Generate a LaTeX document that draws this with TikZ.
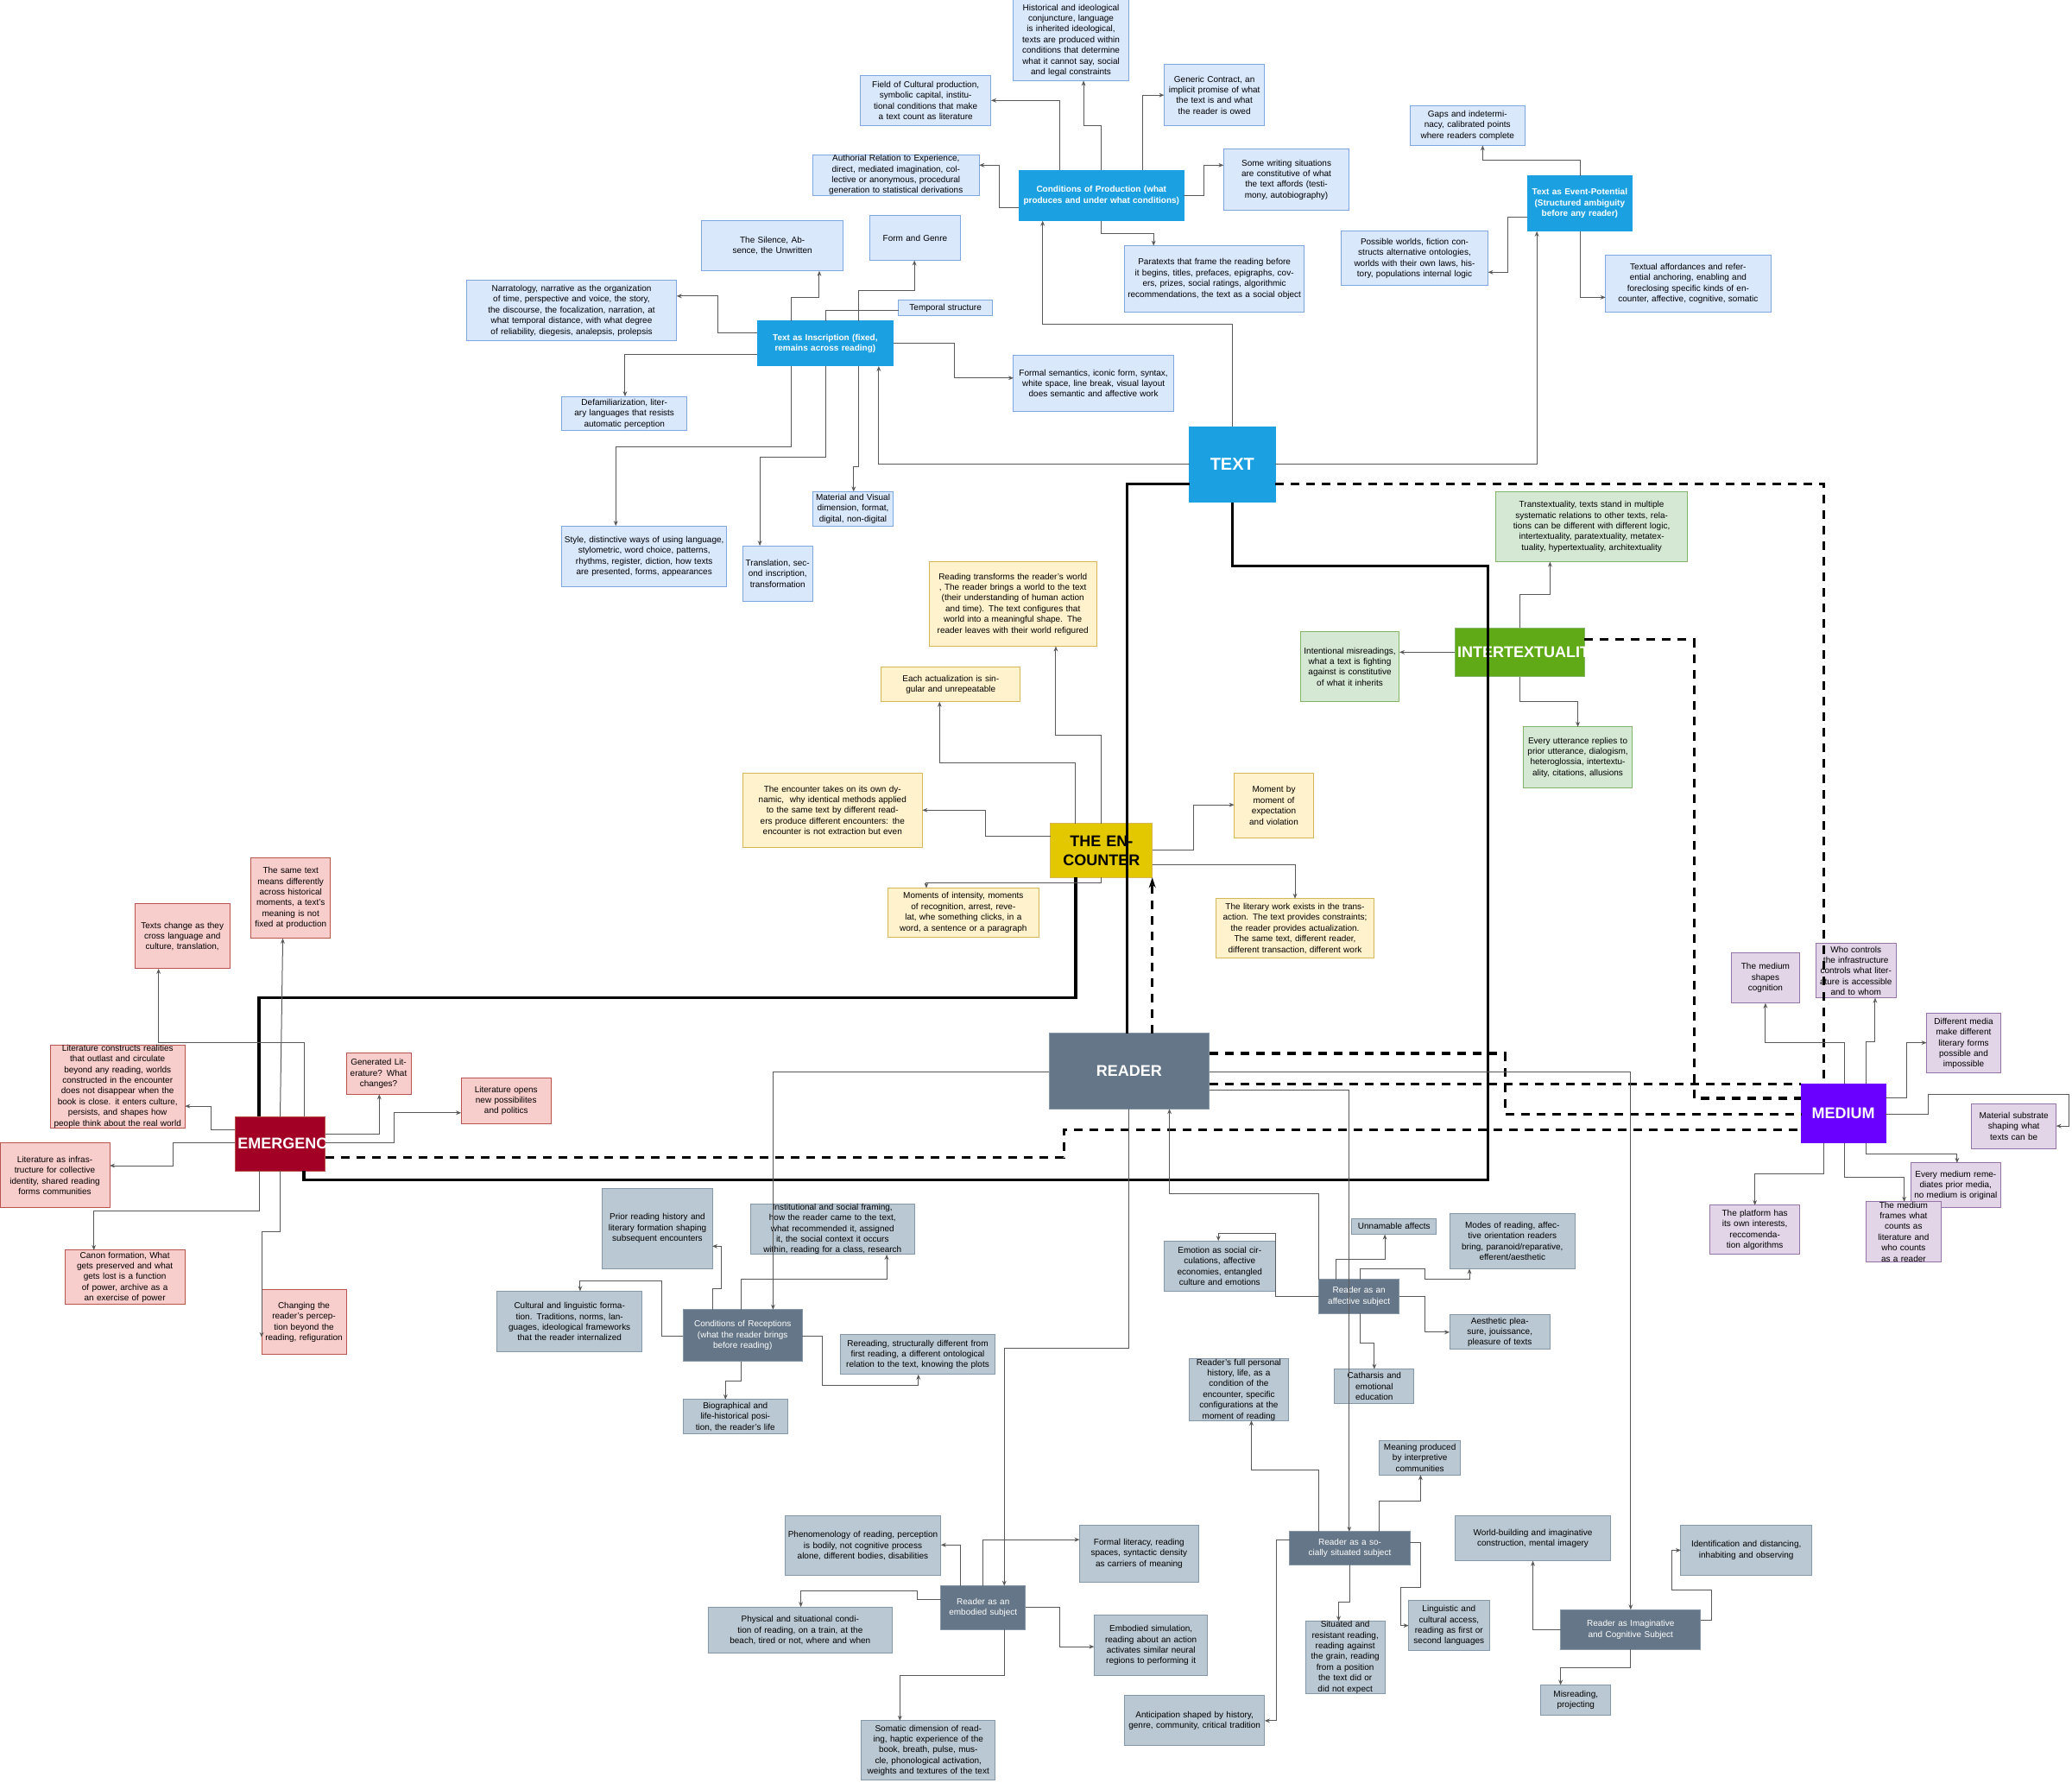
\documentclass[tikz,border=0pt]{standalone}
\usepackage{fontspec}
\setmainfont{Liberation Sans}
\usetikzlibrary{arrows.meta}
\definecolor{bF}{HTML}{DAE8FC}\definecolor{bD}{HTML}{7EA6E0}
\definecolor{bM}{HTML}{1BA1E2}
\definecolor{yF}{HTML}{FFF2CC}\definecolor{yD}{HTML}{D6B656}
\definecolor{gF}{HTML}{D5E8D4}\definecolor{gD}{HTML}{82B366}\definecolor{gM}{HTML}{60A917}
\definecolor{pF}{HTML}{F8CECC}\definecolor{pD}{HTML}{B85450}\definecolor{pM}{HTML}{A20025}
\definecolor{sF}{HTML}{BAC8D3}\definecolor{sD}{HTML}{8497A8}\definecolor{sM}{HTML}{647687}
\definecolor{vF}{HTML}{E1D5E7}\definecolor{vD}{HTML}{9673A6}\definecolor{vM}{HTML}{6A00FF}
\definecolor{eM}{HTML}{E3C800}
\newcommand\bx[7]{%
 \pgfmathsetmacro\bw{(#4-#2)*0.7654}\pgfmathsetmacro\bh{(#5-#3)*0.7654}\pgfmathsetmacro\tw{max(\bw-3,5)}%
 \node[#6, minimum width=\bw pt, minimum height=\bh pt, text width=\tw pt] (#1) at ({(#2+#4)/2},{(#3+#5)/2}) {#7};}
\begin{document}
\begin{tikzpicture}[x=0.7654pt,y=-0.7654pt,
 base/.style={draw, rectangle, align=center, inner xsep=1.5pt, inner ysep=0pt, outer sep=0pt, font=\fontsize{5}{6.2}\selectfont, line width=0.5pt},
 blu/.style={base, fill=bF, draw=bD},
 bmain/.style={base, fill=bM, draw=bM, text=white, font=\fontsize{5}{6.2}\selectfont\bfseries},
 yel/.style={base, fill=yF, draw=yD},
 grn/.style={base, fill=gF, draw=gD},
 pnk/.style={base, fill=pF, draw=pD},
 gry/.style={base, fill=sF, draw=sD},
 gmain/.style={base, fill=sM, draw=sD, text=white},
 vio/.style={base, fill=vF, draw=vD},
 big/.style={base, text=white, font=\fontsize{9}{11}\selectfont\bfseries},
 ln/.style={draw=black!65, line width=0.5pt},
 ar/.style={ln, -{Stealth[length=3pt,width=2.4pt]}},
 thk/.style={draw=black, line width=1.6pt},
 dsh/.style={draw=black, line width=1.6pt, dash pattern=on 5pt off 4pt}]
\useasboundingbox (0,0) rectangle (1568,1349);
% ---------- nodes ----------
\bx{tx}{900}{323}{965}{380}{big,fill=bM,draw=bM,font=\fontsize{10}{12}\selectfont\bfseries}{TEXT}
\bx{cp}{771}{129}{896}{167}{bmain}{Conditions of Production (what produces and under what conditions)}
\bx{hi}{767}{0}{854}{61}{blu}{Historical and ideological conjuncture, language is inherited ideological, texts are produced within conditions that determine what it cannot say, social and legal constraints}
\bx{fc}{651}{57}{750}{95}{blu}{Field of Cultural production, symbolic capital, institutional conditions that make a text count as literature}
\bx{gc}{881}{49}{957}{95}{blu}{Generic Contract, an implicit promise of what the text is and what the reader is owed}
\bx{au}{615}{117}{741}{148}{blu}{Authorial Relation to Experience, direct, mediated imagination, collective or anonymous, procedural generation to statistical derivations}
\bx{sw}{926}{113}{1021}{159}{blu}{Some writing situations are constitutive of what the text affords (testimony, autobiography)}
\bx{pa}{851}{186}{987}{236}{blu}{Paratexts that frame the reading before it begins, titles, prefaces, epigraphs, covers, prizes, social ratings, algorithmic recommendations, the text as a social object}
\bx{ep}{1156}{133}{1235}{175}{bmain}{Text as Event-Potential (Structured ambiguity before any reader)}
\bx{ga}{1067}{80}{1154}{110}{blu}{Gaps and indeterminacy, calibrated points where readers complete}
\bx{pw}{1015}{175}{1126}{216}{blu}{Possible worlds, fiction constructs alternative ontologies, worlds with their own laws, history, populations internal logic}
\bx{ta}{1215}{193}{1340}{236}{blu}{Textual affordances and referential anchoring, enabling and foreclosing specific kinds of encounter, affective, cognitive, somatic}
\bx{ins}{573}{243}{676}{277}{bmain}{Text as Inscription (fixed, remains across reading)}
\bx{si}{531}{167}{638}{205}{blu}{The Silence, Absence, the Unwritten}
\bx{fg}{658}{163}{727}{197}{blu}{Form and Genre}
\bx{ts}{680}{227}{751}{239}{blu}{Temporal structure}
\bx{na}{353}{212}{512}{258}{blu}{Narratology, narrative as the organization of time, perspective and voice, the story, the discourse, the focalization, narration, at what temporal distance, with what degree of reliability, diegesis, analepsis, prolepsis}
\bx{fs}{767}{269}{888}{311}{blu}{Formal semantics, iconic form, syntax, white space, line break, visual layout does semantic and affective work}
\bx{de}{425}{300}{520}{326}{blu}{Defamiliarization, literary languages that resists automatic perception}
\bx{mv}{615}{372}{676}{398}{blu}{Material and Visual dimension, format, digital, non-digital}
\bx{sy}{425}{398}{550}{444}{blu}{Style, distinctive ways of using language, stylometric, word choice, patterns, rhythms, register, diction, how texts are presented, forms, appearances}
\bx{tr}{562}{413}{615}{455}{blu}{Translation, second inscription, transformation}
\bx{tt}{1132}{372}{1277}{425}{grn}{Transtextuality, texts stand in multiple systematic relations to other texts, relations can be different with different logic, intertextuality, paratextuality, metatextuality, hypertextuality, architextuality}
\bx{it}{1101}{475}{1199}{512}{big,fill=gM,draw=gD}{INTERTEXTUALITY}
\bx{im}{984}{478}{1059}{531}{grn}{Intentional misreadings, what a text is fighting against is constitutive of what it inherits}
\bx{eu}{1153}{550}{1235}{596}{grn}{Every utterance replies to prior utterance, dialogism, heteroglossia, intertextuality, citations, allusions}
\bx{rt}{703}{425}{830}{489}{yel}{Reading transforms the reader's world , The reader brings a world to the text (their understanding of human action and time). The text configures that world into a meaningful shape. The reader leaves with their world refigured}
\bx{ea}{667}{505}{772}{531}{yel}{Each actualization is singular and unrepeatable}
\bx{et}{562}{585}{698}{641}{yel}{The encounter takes on its own dynamic, \ why identical methods applied to the same text by different readers produce different encounters: the encounter is not extraction but even}
\bx{enc}{795}{623}{872}{664}{big,fill=eM,draw=yD,text=black}{THE ENCOUNTER}
\bx{mm}{934}{585}{994}{634}{yel}{Moment by moment of expectation and violation}
\bx{mi}{672}{672}{786}{709}{yel}{Moments of intensity, moments of recognition, arrest, revelat, whe something clicks, in a word, a sentence or a paragraph}
\bx{lw}{920}{680}{1040}{725}{yel}{The literary work exists in the transaction. The text provides constraints; the reader provides actualization. The same text, different reader, different transaction, different work}
\bx{rd}{794}{782}{915}{839}{big,fill=sM,draw=sD}{READER}
\bx{med}{1363}{820}{1427}{865}{big,fill=vM,draw=vM}{MEDIUM}
\bx{ms}{1310}{721}{1362}{759}{vio}{The medium shapes cognition}
\bx{wc}{1374}{714}{1435}{755}{vio}{Who controls the infrastructure controls what literature is accessible and to whom}
\bx{dm}{1458}{767}{1514}{812}{vio}{Different media make different literary forms possible and impossible}
\bx{mt}{1492}{835}{1556}{869}{vio}{Material substrate shaping what texts can be}
\bx{evm}{1446}{880}{1514}{914}{vio}{Every medium remediates prior media, no medium is original}
\bx{pl}{1294}{912}{1362}{949}{vio}{The platform has its own interests, reccomendation algorithms}
\bx{mf}{1412}{914}{1469}{950}{vio}{The medium frames what counts as literature and who counts as a reader}
\bx{em}{178}{845}{246}{886}{big,fill=pM,draw=pD}{EMERGENCE}
\bx{sm}{190}{649}{250}{710}{pnk}{The same text means differently across historical moments, a text's meaning is not fixed at production}
\bx{tc}{102}{684}{174}{733}{pnk}{Texts change as they cross language and culture, translation,}
\bx{lc}{38}{792}{140}{852}{pnk}{Literature constructs realities that outlast and circulate beyond any reading, worlds constructed in the encounter does not disappear when the book is close. it enters culture, persists, and shapes how people think about the real world}
\bx{ge}{262}{797}{311}{828}{pnk}{Generated Literature? What changes?}
\bx{lo}{349}{816}{417}{850}{pnk}{Literature opens new possibilites and politics}
\bx{li}{0}{865}{83}{914}{pnk}{Literature as infrastructure for collective identity, shared reading forms communities}
\bx{ca}{49}{946}{140}{987}{pnk}{Canon formation, What gets preserved and what gets lost is a function of power, archive as a an exercise of power}
\bx{ch}{198}{976}{262}{1025}{pnk}{Changing the reader's perception beyond the reading, refiguration}
\bx{pr}{456}{899}{539}{960}{gry}{Prior reading history and literary formation shaping subsequent encounters\\[16pt]}
\bx{ns}{568}{911}{692}{949}{gry}{Institutional and social framing, how the reader came to the text, what recommended it, assigned it, the social context it occurs within, reading for a class, research}
\bx{cl}{376}{977}{486}{1023}{gry}{Cultural and linguistic formation. Traditions, norms, languages, ideological frameworks that the reader internalized}
\bx{cr}{517}{991}{607}{1030}{gmain}{Conditions of Receptions (what the reader brings\\ before reading)}
\bx{rr}{636}{1010}{753}{1040}{gry}{Rereading, structurally different from first reading, a different ontological relation to the text, knowing the plots}
\bx{bi}{517}{1059}{596}{1085}{gry}{Biographical and life-historical position, the reader's life}
\bx{un}{1023}{922}{1087}{934}{gry}{Unnamable affects}
\bx{mo}{1097}{918}{1192}{960}{gry}{Modes of reading, affective orientation readers bring, paranoid/reparative, efferent/aesthetic}
\bx{eo}{881}{939}{965}{977}{gry}{Emotion as social circulations, affective economies, entangled culture and emotions}
\bx{af}{998}{968}{1059}{994}{gmain}{Reader as an affective subject}
\bx{ae}{1097}{995}{1173}{1021}{gry}{Aesthetic pleasure, jouissance, pleasure of texts}
\bx{ct}{1010}{1036}{1070}{1062}{gry}{Catharsis and emotional education}
\bx{rf}{900}{1031}{975}{1072}{gry}{Reader's full personal history, life, as a condition of the encounter, specific configurations at the moment of reading}
\bx{me}{1044}{1090}{1105}{1116}{gry}{Meaning produced by interpretive communities}
\bx{ss}{976}{1159}{1067}{1184}{gmain}{Reader as a socially situated subject}
\bx{wb}{1101}{1147}{1219}{1181}{gry}{World-building and imaginative construction, mental imagery}
\bx{id}{1272}{1154}{1371}{1192}{gry}{Identification and distancing, inhabiting and observing}
\bx{ig}{1181}{1218}{1287}{1248}{gmain}{Reader as Imaginative and Cognitive Subject}
\bx{mr}{1166}{1275}{1219}{1298}{gry}{Misreading, projecting}
\bx{lg}{1066}{1211}{1127}{1249}{gry}{Linguistic and cultural access, reading as first or second languages}
\bx{sr}{988}{1233}{1048}{1275}{gry}{Situated and resistant reading, reading against the grain, reading from a position the text did or did not expect}
\bx{an}{851}{1283}{957}{1321}{gry}{Anticipation shaped by history, genre, community, critical tradition}
\bx{ph}{594}{1147}{712}{1192}{gry}{Phenomenology of reading, perception is bodily, not cognitive process alone, different bodies, disabilities}
\bx{fl}{817}{1154}{907}{1197}{gry}{Formal literacy, reading spaces, syntactic density as carriers of meaning}
\bx{eb}{712}{1200}{776}{1233}{gmain}{Reader as an embodied subject}
\bx{pc}{536}{1216}{675}{1251}{gry}{Physical and situational condition of reading, on a train, at the beach, tired or not, where and when}
\bx{es}{828}{1222}{914}{1268}{gry}{Embodied simulation, reading about an action activates similar neural regions to performing it}
\bx{so}{652}{1302}{753}{1347}{gry}{Somatic dimension of reading, haptic experience of the book, breath, pulse, muscle, phonological activation, weights and textures of the text}
% ---------- thick structure ----------
\draw[thk] (tx.west |- 0,366) -| (rd.north -| 853,0);
\draw[thk] (tx.south) |- (1126,428) -- (1126,893) -| (em.south -| 230,0);
\draw[thk] (enc.south -| 814,0) |- (196,755) -- (em.north -| 196,0);
\draw[dsh] (tx.east |- 0,366) -| (med.north -| 1380,0);
\draw[dsh] (it.east |- 0,484) -| (1282,831) -- (med.west |- 0,831);
\draw[dsh] (rd.east |- 0,797) -| (1139,843) -- (med.west |- 0,843);
\draw[dsh] (rd.east |- 0,820) -- (med.west |- 0,820);
\draw[dsh] (em.east |- 0,876) -| (805,855) -- (med.west |- 0,855);
\draw[dsh,-{Stealth[length=6pt,width=4pt]}] (rd.north -| 872,0) -- (enc.south -| 872,0);
% ---------- TEXT ----------
\draw[ar] (tx.north) |- (789,245) -- (cp.south -| 789,0);
\draw[ar] (tx.east |- 0,351) -| (ep.south -| 1163,0);
\draw[ar] (tx.west |- 0,351) -| (ins.south -| 665,0);
% conditions of production
\draw[ar] (cp.north -| 802,0) |- (fc.east |- 0,76);
\draw[ar] (cp.north -| 833,0) |- (820,95) -- (hi.south -| 820,0);
\draw[ar] (cp.north -| 865,0) |- (gc.west |- 0,72);
\draw[ar] (cp.east |- 0,148) -| (911,125) -- (sw.west |- 0,125);
\draw[ar] (cp.west |- 0,157) -| (756,125) -- (au.east |- 0,125);
\draw[ar] (cp.south) |- (873,177) -- (pa.north -| 873,0);
% event potential
\draw[ar] (ep.north -| 1196,0) |- (1122,121) -- (ga.south -| 1122,0);
\draw[ar] (ep.west |- 0,164) -| (1141,206) -- (pw.east |- 0,206);
\draw[ar] (ep.south -| 1196,0) |- (ta.west |- 0,225);
% inscription
\draw[ar] (ins.north -| 599,0) |- (620,225) -- (si.south -| 620,0);
\draw[ar] (ins.north -| 650,0) |- (692,220) -- (fg.south -| 692,0);
\draw[ln] (ins.north -| 625,0) |- (ts.west |- 0,235);
\draw[ar] (ins.west |- 0,252) -| (543,224) -- (na.east |- 0,224);
\draw[ar] (ins.west |- 0,268) -| (de.north -| 473,0);
\draw[ar] (ins.east |- 0,260) -| (722,286) -- (fs.west |- 0,286);
\draw[ar] (ins.south -| 599,0) |- (466,338) -- (sy.north -| 466,0);
\draw[ar] (ins.south -| 625,0) |- (575,346) -- (tr.north -| 575,0);
\draw[ar] (ins.south -| 650,0) |- (646,353) -- (mv.north -| 646,0);
% intertextuality
\draw[ar] (it.north -| 1150,0) |- (1173,450) -- (tt.south -| 1173,0);
\draw[ar] (it.west) -- (im.east |- it.west);
\draw[ar] (it.south -| 1150,0) |- (1194,531) -- (eu.north -| 1194,0);
% encounter
\draw[ar] (enc.north -| 833,0) |- (799,556) -- (rt.south -| 799,0);
\draw[ar] (enc.north -| 814,0) |- (711,577) -- (ea.south -| 711,0);
\draw[ar] (enc.west |- 0,633) -| (746,613) -- (et.east |- 0,613);
\draw[ar] (enc.east |- 0,643) -| (903,609) -- (mm.west |- 0,609);
\draw[ar] (enc.east |- 0,654) -| (lw.north -| 980,0);
\draw[ar] (enc.south -| 833,0) |- (701,668) -- (mi.north -| 701,0);
% reader
\draw[ar] (rd.west |- 0,811) -| (cr.north -| 585,0);
\draw[ar] (rd.south) |- (760,1020) -- (eb.north -| 760,0);
\draw[ar] (rd.east |- 0,811) -| (ig.north -| 1234,0);
\draw[ar] (rd.east |- 0,825) -| (ss.north -| 1021,0);
\draw[ar] (af.north -| 998,0) |- (885,903) -- (rd.south -| 885,0);
% emergence
\draw[ar] (em.north -| 230,0) |- (120,789) -- (tc.south -| 120,0);
\draw[ar] (em.north -| 212,0) -- (sm.south -| 214,0);
\draw[ar] (em.west |- 0,855) -| (160,837) -- (lc.east |- 0,837);
\draw[ar] (em.west |- 0,865) -| (131,882) -- (li.east |- 0,882);
\draw[ar] (em.east |- 0,858) -| (ge.south -| 287,0);
\draw[ar] (em.east |- 0,865) -| (298,842) -- (lo.west |- 0,842);
\draw[ar] (em.south -| 196,0) |- (71,916) -- (ca.north -| 71,0);
\draw[ar] (em.south -| 212,0) |- (198,932) -- (ch.west |- 0,1012);
% conditions of reception
\draw[ar] (cr.north -| 539,0) |- (546,975) -- (546,943) -- (pr.east |- 0,943);
\draw[ar] (cr.north -| 561,0) |- (671,968) -- (ns.south -| 671,0);
\draw[ar] (cr.west |- 0,1011) -| (501,969) -| (cl.north -| 439,0);
\draw[ar] (cr.east |- 0,1011) -| (622,1048) -| (rr.south -| 695,0);
\draw[ar] (cr.south -| 561,0) |- (549,1045) -- (bi.north -| 549,0);
% affective
\draw[ar] (af.west |- 0,981) -| (965,933) -| (eo.north -| 922,0);
\draw[ar] (af.north -| 1011,0) |- (1048,953) -- (un.south -| 1048,0);
\draw[ar] (af.north -| 1029,0) |- (1078,960) |- (1112,968) -- (mo.south -| 1112,0);
\draw[ar] (af.east |- 0,981) -| (1078,1008) -- (ae.west |- 0,1008);
\draw[ar] (af.south -| 1029,0) |- (1040,1016) -- (ct.north -| 1040,0);
% socially situated
\draw[ar] (ss.north -| 998,0) |- (947,1112) -- (rf.south -| 947,0);
\draw[ar] (ss.north -| 1044,0) |- (1075,1136) -- (me.south -| 1075,0);
\draw[ar] (ss.east |- 0,1167) -| (1075,1201) -| (1060,1230) -- (lg.west |- 0,1230);
\draw[ar] (ss.south) |- (1013,1212) -- (sr.north -| 1013,0);
\draw[ar] (ss.west |- 0,1165) -| (966,1302) -- (an.east |- 0,1302);
% imaginative
\draw[ar] (ig.west |- 0,1233) -| (wb.south -| 1160,0);
\draw[ar] (ig.east |- 0,1226) -| (1295,1203) -| (1265,1173) -- (id.west |- 0,1173);
\draw[ar] (ig.south -| 1234,0) |- (1181,1262) -- (mr.north -| 1181,0);
% embodied
\draw[ar] (eb.north -| 727,0) |- (ph.east |- 0,1169);
\draw[ar] (eb.north -| 744,0) |- (fl.west |- 0,1165);
\draw[ar] (eb.west |- 0,1210) -| (694,1204) -| (pc.north -| 606,0);
\draw[ar] (eb.east |- 0,1216) -| (802,1246) -- (es.west |- 0,1246);
\draw[ar] (eb.south -| 760,0) |- (681,1268) -- (so.north -| 681,0);
% medium
\draw[ar] (med.north -| 1396,0) |- (1336,789) -- (ms.south -| 1336,0);
\draw[ar] (med.north -| 1412,0) |- (1419,788) -- (wc.south -| 1419,0);
\draw[ar] (med.east |- 0,831) -| (1443,789) -- (dm.west |- 0,789);
\draw[ar] (med.east |- 0,843) -| (1459,828) -| (1566,852) -- (mt.east |- 0,852);
\draw[ar] (med.south -| 1412,0) |- (1481,873) -- (evm.north -| 1481,0);
\draw[ar] (med.south -| 1396,0) |- (1441,891) -- (mf.north -| 1441,0);
\draw[ar] (med.south -| 1380,0) |- (1328,888) -- (pl.north -| 1328,0);
\end{tikzpicture}
\end{document}
